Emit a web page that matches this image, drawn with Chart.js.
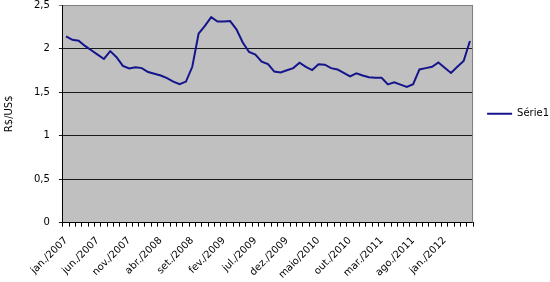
<!DOCTYPE html>
<html>
<head>
<meta charset="utf-8">
<script src="https://cdn.jsdelivr.net/npm/chart.js@4.4.1/dist/chart.umd.min.js"></script>
<style>
  html, body { margin: 0; padding: 0; background: #fff; }
  #wrap { width: 550px; height: 282px; }
</style>
</head>
<body>
<div id="wrap"><canvas id="linegraph" width="550" height="282"></canvas></div>
<script>
// meses e anos do eixo x (jan./2007 ate maio/2012)
var meses = ['jan.', 'fev.', 'mar.', 'abr.', 'maio', 'jun.', 'jul.', 'ago.', 'set.', 'out.', 'nov.', 'dez.'];
var anos = [2007, 2008, 2009, 2010, 2011, 2012];
var ultimoMes = 4; // maio/2012

// R$/US$ mensal
var cambio2007 = [2.14, 2.10, 2.09, 2.03, 1.98, 1.93, 1.88, 1.97, 1.90, 1.80, 1.77, 1.785];
var cambio2008 = [1.775, 1.73, 1.71, 1.69, 1.66, 1.62, 1.59, 1.62, 1.79, 2.17, 2.26, 2.36];
var cambio2009 = [2.31, 2.31, 2.315, 2.22, 2.07, 1.96, 1.93, 1.85, 1.82, 1.735, 1.726, 1.75];
var cambio2010 = [1.775, 1.837, 1.79, 1.752, 1.818, 1.814, 1.775, 1.76, 1.72, 1.68, 1.715, 1.69];
var cambio2011 = [1.67, 1.664, 1.664, 1.588, 1.611, 1.585, 1.56, 1.59, 1.76, 1.775, 1.79, 1.84];
var cambio2012 = [1.78, 1.72, 1.79, 1.856, 2.086];

var yTicks = [0, 0.5, 1, 1.5, 2, 2.5];

var labels = [];
for (var a = 0; a < anos.length; a++) {
	for (var m = 0; m < 12; m++) {
		if (anos[a] === 2012 && m > ultimoMes) break;
		labels.push(meses[m] + '/' + anos[a]);
	}
}
var serie = [].concat(cambio2007, cambio2008, cambio2009, cambio2010, cambio2011, cambio2012);

// fundo cinza da area do grafico + borda superior/direita
var plotArea = {
	id: 'plotArea',
	beforeDraw: function(chart) {
		var c = chart.ctx, a = chart.chartArea;
		c.save();
		c.fillStyle = '#c0c0c0';
		c.fillRect(a.left, a.top, a.right - a.left, a.bottom - a.top);
		c.restore();
	},
	beforeDatasetsDraw: function(chart) {
		var c = chart.ctx, a = chart.chartArea;
		c.save();
		c.strokeStyle = '#808080';
		c.lineWidth = 1;
		c.beginPath();
		c.moveTo(a.left, Math.round(a.top) + 0.5);
		c.lineTo(Math.round(a.right) - 0.5, Math.round(a.top) + 0.5);
		c.lineTo(Math.round(a.right) - 0.5, a.bottom);
		c.stroke();
		c.restore();
	}
};

Chart.defaults.font.family = '"DejaVu Sans", Verdana, sans-serif';
Chart.defaults.font.size = 10;
Chart.defaults.color = '#000';

var ctx = document.getElementById('linegraph');
var lineGraph = new Chart(ctx, {
	type: 'line',
	data: {
		labels: labels,
		datasets: [{
			label: 'Série1',
			data: serie,
			borderColor: '#14148c',
			backgroundColor: '#14148c',
			borderWidth: 2,
			pointRadius: 0,
			tension: 0,
			fill: false
		}]
	},
	options: {
		responsive: false,
		animation: false,
		layout: { padding: { top: 0, right: -9, bottom: -7, left: 0 } },
		plugins: {
			tooltip: { enabled: false },
			legend: {
				position: 'right',
				fullSize: false,
				labels: {
					boxWidth: 25,
					boxHeight: 0,
					padding: 14,
					color: '#000',
					font: { size: 10 }
				}
			}
		},
		scales: {
			x: {
				offset: true,
				grid: {
					offset: true,
					drawOnChartArea: false,
					tickLength: 4,
					color: '#000'
				},
				border: { color: '#000', width: 1 },
				ticks: {
					autoSkip: false,
					minRotation: 45,
					maxRotation: 45,
					padding: 8,
					callback: function(val, i) {
						return i % 5 === 0 ? this.getLabelForValue(val) : '';
					}
				}
			},
			y: {
				min: 0,
				max: 2.5,
				afterBuildTicks: function(axis) {
					axis.ticks = yTicks.map(function(v) { return { value: v }; });
				},
				afterFit: function(axis) {
					axis.paddingTop = 5;
					axis.paddingBottom = 5;
				},
				grid: {
					tickLength: 4,
					color: function(c) {
						return c.tick && c.tick.value === 2.5 ? '#808080' : '#1a1a1a';
					}
				},
				border: { color: '#000', width: 1 },
				ticks: {
					padding: 9,
					callback: function(v) { return String(v).replace('.', ','); }
				},
				title: {
					display: true,
					text: 'R$/US$',
					padding: { top: 3, bottom: 10 },
					font: { size: 10 }
				}
			}
		}
	},
	plugins: [plotArea]
});
</script>
</body>
</html>
